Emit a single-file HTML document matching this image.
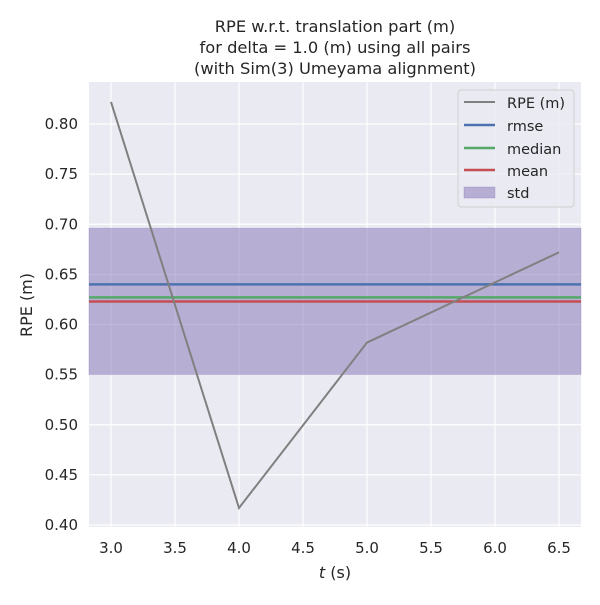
<!DOCTYPE html>
<html><head><meta charset="utf-8"><style>
body{margin:0;background:#fff;}
text{font-family:"DejaVu Sans","Liberation Sans",sans-serif;fill:#262626;}
</style></head><body>
<svg id="chart" width="600" height="600" viewBox="0 0 600 600" xmlns="http://www.w3.org/2000/svg">
<g id="title">
<text x="335" y="32" text-anchor="middle" font-size="16.3">RPE w.r.t. translation part (m)</text>
<text x="335" y="53" text-anchor="middle" font-size="16.3">for delta = 1.0 (m) using all pairs</text>
<text x="335" y="74" text-anchor="middle" font-size="16.3">(with Sim(3) Umeyama alignment)</text>
</g>
<rect x="89" y="82" width="492" height="445" fill="#eaeaf2"/>
<g id="grid"></g>
<g id="band"></g>
<g id="stats"></g>
<g id="series"></g>
<g id="ticks"></g>
<text x="335" y="578" text-anchor="middle" font-size="16"><tspan font-style="italic">t</tspan> (s)</text>
<text transform="translate(32,305) rotate(-90)" text-anchor="middle" font-size="16">RPE (m)</text>
<g id="legend">
<rect x="458" y="90" width="116" height="117" rx="3" fill="#eaeaf2" fill-opacity="0.8" stroke="#d0d0d0"/>
<line x1="464" y1="102" x2="495" y2="102" stroke="#808080" stroke-width="2"/>
<text x="507" y="108" font-size="14.5">RPE (m)</text>
<line x1="464" y1="125" x2="495" y2="125" stroke="#4c72b0" stroke-width="2.5"/>
<text x="507" y="131" font-size="14.5">rmse</text>
<line x1="464" y1="148" x2="495" y2="148" stroke="#55a868" stroke-width="2.5"/>
<text x="507" y="154" font-size="14.5">median</text>
<line x1="464" y1="170" x2="495" y2="170" stroke="#c44e52" stroke-width="2.5"/>
<text x="507" y="176" font-size="14.5">mean</text>
<rect x="464" y="187" width="31" height="11" fill="#8172b3" fill-opacity="0.5" stroke="#8172b3" stroke-opacity="0.3"/>
<text x="507" y="198" font-size="14.5">std</text>
</g>
</svg>
<script>
const times=[3.0,4.0,5.0,6.5];
const rpeValues=[0.822,0.417,0.582,0.672];
const rmseValue=0.640;
const medianValue=0.627;
const meanValue=0.623;
const stdLow=0.550;
const stdHigh=0.696;
const xTicks=[3.0,3.5,4.0,4.5,5.0,5.5,6.0,6.5];
const yTicks=[0.40,0.45,0.50,0.55,0.60,0.65,0.70,0.75,0.80];
const NS='http://www.w3.org/2000/svg';
const L=89,R=581,T=82,B=527;
function xs(v){return 111+(v-3.0)*128;}
function ys(v){return 525-(v-0.4)*1002.5;}
function mk(p,tag,a){const e=document.createElementNS(NS,tag);for(const k in a)e.setAttribute(k,a[k]);document.getElementById(p).appendChild(e);return e;}
xTicks.forEach(t=>{
 const g=mk('grid','line',{x1:xs(t),x2:xs(t),y1:T,y2:B,stroke:'#fff','stroke-width':1.2});
 
 
 const l=mk('ticks','text',{x:xs(t),y:B+26,'text-anchor':'middle','font-size':15});
 l.textContent=t.toFixed(1);
 
 
});
yTicks.forEach(t=>{
 const g=mk('grid','line',{x1:L,x2:R,y1:ys(t),y2:ys(t),stroke:'#fff','stroke-width':1.2});
 
 
 const l=mk('ticks','text',{x:L-11,y:ys(t)+5,'text-anchor':'end','font-size':15});
 l.textContent=t.toFixed(2);
 
 
});
const band=mk('band','rect',{x:L,y:ys(stdHigh),width:R-L,height:ys(stdLow)-ys(stdHigh),fill:'#8172b3','fill-opacity':0.5,stroke:'#8172b3','stroke-opacity':0.3});


[[rmseValue,'#4c72b0','rmse-line'],[medianValue,'#55a868','median-line'],[meanValue,'#c44e52','mean-line']].forEach(s=>{
 const e=mk('stats','line',{x1:L,x2:R,y1:ys(s[0]),y2:ys(s[0]),stroke:s[1],'stroke-width':2.5});
 
 
});
const pl=mk('series','polyline',{points:times.map((t,i)=>xs(t)+','+ys(rpeValues[i])).join(' '),fill:'none',stroke:'#808080','stroke-width':2});


</script>
</body></html>
